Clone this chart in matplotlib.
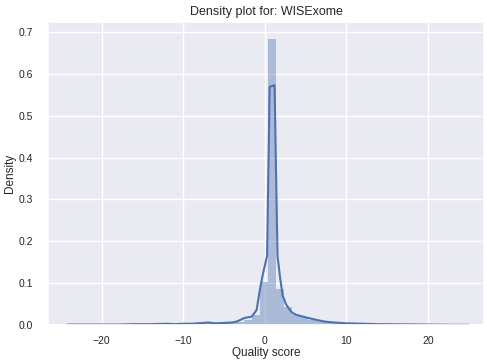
import numpy as np
import matplotlib
matplotlib.use("Agg")
import matplotlib.pyplot as plt
import seaborn as sns

# histogram: 50 bins, left edge and width
bin_start = -24.1
bin_width = 0.98
bar_heights = [0.001, 0.0, 0.0, 0.0, 0.001, 0.0, 0.001, 0.001, 0.001, 0.001,
               0.002, 0.002, 0.003, 0.002, 0.002, 0.003, 0.006, 0.004, 0.003, 0.005,
               0.005, 0.008, 0.013, 0.024, 0.102, 0.683, 0.086, 0.043, 0.025, 0.018,
               0.013, 0.010, 0.008, 0.006, 0.005, 0.004, 0.003, 0.002, 0.002, 0.002,
               0.001, 0.001, 0.001, 0.001, 0.001, 0.001, 0.001, 0.0005, 0.0005, 0.0005]

# kde curve
kde_x = [-24.2, -22, -20, -18, -16, -14, -12, -11, -10, -9, -8, -7, -6, -5, -4,
         -3.5, -3, -2.6, -2.2, -1.6, -1.0, -0.6, -0.25, 0.28, 0.6, 1.2, 1.56,
         1.9, 2.2, 2.6, 3.05, 3.4, 3.9, 4.7, 5.5, 6.4, 7.4, 8.5, 10, 12, 14, 17,
         20, 23, 25]
kde_y = [0.001, 0.001, 0.001, 0.001, 0.002, 0.002, 0.003, 0.002, 0.003, 0.003,
         0.004, 0.006, 0.004, 0.005, 0.006, 0.008, 0.012, 0.016, 0.018, 0.02,
         0.036, 0.084, 0.12, 0.165, 0.569, 0.573, 0.165, 0.11, 0.07, 0.05, 0.036,
         0.029, 0.024, 0.02, 0.016, 0.012, 0.008, 0.006, 0.004, 0.003, 0.002,
         0.0015, 0.001, 0.0005, 0.0005]

sns.set_theme(style="darkgrid")
plt.rcParams['font.family'] = ['Liberation Sans', 'DejaVu Sans']

fig = plt.figure(figsize=(4.87, 3.62), dpi=100)
ax = fig.add_axes([48/487, 1 - 325/362, (484 - 48)/487, (325 - 22)/362])

c = sns.color_palette("deep")[0]
edges = bin_start + bin_width*np.arange(len(bar_heights))
ax.bar(edges, bar_heights, width=bin_width, align='edge', color=c, alpha=0.4,
       linewidth=0)
ax.plot(kde_x, kde_y, color=c, lw=1.5)

ax.set_xlim(-26.6, 26.9)
ax.set_ylim(0, 0.724)
ax.set_xticks([-20, -10, 0, 10, 20])
ax.tick_params(labelsize=7.5, colors='#262626')
ax.tick_params(axis='x', pad=2)
ax.tick_params(axis='y', pad=5)
ax.set_title("Density plot for: WISExome", fontsize=9, pad=5)
ax.set_xlabel("Quality score", fontsize=8.5)
ax.set_ylabel("Density", fontsize=8.5)
ax.xaxis.set_label_coords(0.5, -0.074)
ax.yaxis.set_label_coords(-0.073, 0.5)

fig.savefig("out.png", dpi=100)
